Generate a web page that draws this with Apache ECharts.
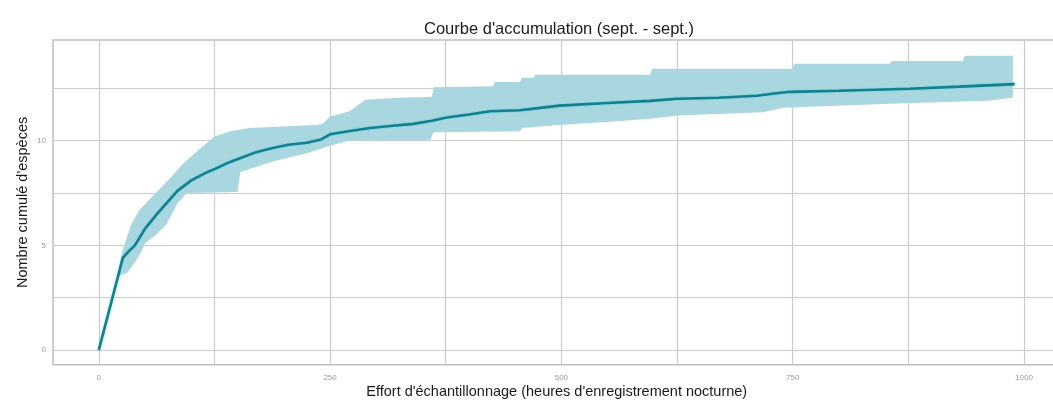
<!DOCTYPE html>
<html>
<head>
<meta charset="utf-8">
<script src="https://cdn.jsdelivr.net/npm/echarts@6/dist/echarts.min.js"></script>
<style>
html,body{margin:0;padding:0;background:#fff;}
#chart{width:1053px;height:401px;}
</style>
</head>
<body>
<div id="chart"></div>
<script>
// ---- data ----
var titleText = "Courbe d'accumulation (sept. - sept.)";
var xAxisTitle = "Effort d'échantillonnage (heures d'enregistrement nocturne)";
var yAxisTitle = "Nombre cumulé d'espèces";

var xTickLabels = [0, 250, 500, 750, 1000];
var xGridValues = [0, 125, 250, 375, 500, 625, 750, 875, 1000];
var yTickLabels = [0, 5, 10];
var yGridValues = [0, 2.5, 5, 7.5, 10, 12.5];

var lineX = [0, 13, 26, 32, 39, 50, 63, 75, 85, 100, 115, 128, 140, 152, 170, 188, 205, 225, 240, 250, 270, 293, 315, 340, 360, 376, 400, 423, 455, 475, 498, 550, 596, 625, 670, 711, 730, 747, 800, 877, 930, 990];
var lineY = [0, 2.2, 4.4, 4.7, 5.0, 5.8, 6.5, 7.1, 7.6, 8.1, 8.45, 8.7, 8.95, 9.15, 9.45, 9.65, 9.8, 9.9, 10.05, 10.3, 10.45, 10.6, 10.7, 10.8, 10.95, 11.1, 11.25, 11.4, 11.45, 11.55, 11.67, 11.8, 11.9, 12.0, 12.05, 12.14, 12.25, 12.33, 12.38, 12.48, 12.58, 12.7];

var upperX = [20, 26, 35, 44, 55, 66, 77, 91, 109, 125, 142, 163, 235, 242, 250, 271, 288, 325, 360, 362, 426, 428, 455, 457, 470, 472, 596, 598, 750, 752, 855, 857, 934, 936, 988];
var upperY = [3.6, 4.8, 6.0, 6.7, 7.2, 7.7, 8.2, 8.9, 9.6, 10.2, 10.45, 10.6, 10.75, 10.8, 11.15, 11.4, 11.95, 12.05, 12.1, 12.55, 12.6, 12.8, 12.8, 13.0, 13.0, 13.15, 13.15, 13.43, 13.43, 13.67, 13.67, 13.8, 13.8, 14.05, 14.05];

var lowerX = [20, 31, 36, 45, 50, 62, 73, 85, 95, 150, 153, 188, 225, 250, 271, 358, 362, 455, 458, 498, 552, 596, 625, 718, 740, 855, 960, 988];
var lowerY = [3.5, 3.7, 4.0, 4.6, 5.1, 5.5, 6.0, 7.0, 7.5, 7.55, 8.5, 9.0, 9.4, 9.75, 10.0, 10.0, 10.4, 10.45, 10.6, 10.75, 10.9, 11.05, 11.2, 11.35, 11.57, 11.76, 11.9, 12.05];

function pairs(xs, ys) { return xs.map(function (x, i) { return [x, ys[i]]; }); }
var lineData = pairs(lineX, lineY);
var upperData = pairs(upperX, upperY);
var lowerData = pairs(lowerX, lowerY);

var gridColor = '#cbcbcb';
var fontFam = '"Liberation Sans", Arial, sans-serif';

var chart = echarts.init(document.getElementById('chart'), null, { renderer: 'canvas' });
chart.setOption({
  animation: false,
  backgroundColor: '#ffffff',
  title: {
    text: titleText,
    left: 419,
    top: 16,
    textStyle: { fontFamily: fontFam, fontSize: 16.5, fontWeight: 'normal', color: '#1a1a1a' }
  },
  grid: {
    left: 53, top: 40, right: -7.5, bottom: 36.2,
    outerBoundsMode: 'none',
    containLabel: false,
    show: true, borderColor: '#bdbdbd', borderWidth: 1.5, backgroundColor: '#fff'
  },
  xAxis: {
    type: 'value',
    min: -49.5, max: 1039.5,
    name: xAxisTitle,
    nameLocation: 'middle',
    nameGap: 20,
    nameMoveOverlap: false,
    nameTextStyle: { fontFamily: fontFam, fontSize: 14.5, color: '#1a1a1a' },
    axisLine: { show: false },
    axisTick: { show: false, customValues: xGridValues },
    axisLabel: {
      customValues: xTickLabels, fontFamily: fontFam, fontSize: 8, color: '#9a9a9a', margin: 9,
      formatter: function (v) { return String(v); }
    },
    splitLine: { show: true, lineStyle: { color: gridColor, width: 1.2 } }
  },
  yAxis: {
    type: 'value',
    min: -0.705, max: 14.805,
    name: yAxisTitle,
    nameLocation: 'middle',
    nameGap: 23,
    nameMoveOverlap: false,
    nameTextStyle: { fontFamily: fontFam, fontSize: 14.5, color: '#1a1a1a' },
    axisLine: { show: false },
    axisTick: { show: false, customValues: yGridValues },
    axisLabel: { customValues: yTickLabels, fontFamily: fontFam, fontSize: 8, color: '#9a9a9a', margin: 7 },
    splitLine: { show: true, lineStyle: { color: gridColor, width: 1.2 } }
  },
  series: [
    {
      type: 'custom',
      name: 'band',
      silent: true,
      clip: true,
      data: [[0, 0]],
      renderItem: function (params, api) {
        var pts = [];
        upperData.forEach(function (p) { pts.push(api.coord(p)); });
        for (var i = lowerData.length - 1; i >= 0; i--) pts.push(api.coord(lowerData[i]));
        return { type: 'polygon', shape: { points: pts }, style: { fill: '#a9d7df', stroke: null } };
      },
      z: 2
    },
    {
      type: 'line',
      name: 'courbe',
      data: lineData,
      showSymbol: false,
      symbol: 'none',
      lineStyle: { color: '#14808e', width: 2.6, shadowColor: '#5fd0e2', shadowBlur: 2 },
      z: 3
    }
  ]
});
</script>
</body>
</html>
